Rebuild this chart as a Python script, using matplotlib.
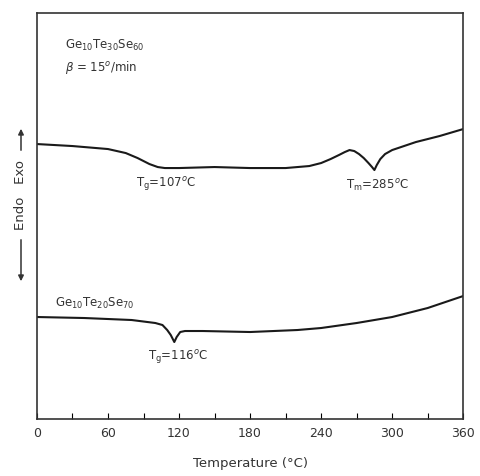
import numpy as np
import matplotlib.pyplot as plt

# DSC-кривые (произвольные единицы)
temp_top = [0, 30, 60, 75, 85, 95, 102, 108, 120, 150, 180, 210, 230, 240, 248, 255,
            260, 264, 268, 272, 276, 280, 283, 285, 287, 290, 294, 300, 320, 340, 360]
sig_top = [275, 273, 270, 266, 261, 255, 252, 251, 251, 252, 251, 251, 253, 256, 260, 264,
           267, 269, 268, 265, 261, 256, 252, 249, 254, 260, 265, 269, 277, 283, 290]

temp_bot = [0, 40, 80, 100, 106, 110, 113, 116, 118, 121, 125, 140, 180, 220, 240,
            270, 300, 330, 360]
sig_bot = [102, 101, 99, 96, 94, 89, 84, 77, 82, 87, 88, 88, 87, 89, 91,
           96, 102, 111, 123]

xticks = list(range(0, 361, 30))
xticklabels = [str(t) if t % 60 == 0 else '' for t in xticks]

W, H = 480, 477
fig = plt.figure(figsize=(W / 100, H / 100), dpi=100)
ax = fig.add_axes([0.077, 0.1195, 0.888, 0.851])

ax.plot(temp_top, sig_top, color='#1a1a1a', linewidth=1.5)
ax.plot(temp_bot, sig_bot, color='#1a1a1a', linewidth=1.5)

ax.set_xlim(0, 360)
ax.set_ylim(0, 406)
ax.set_xticks(xticks)
ax.set_xticklabels(xticklabels, fontsize=9, color='#333333')
ax.tick_params(axis='x', direction='in', length=4, pad=5)
ax.set_yticks([])
for s in ax.spines.values():
    s.set_linewidth(1.2)
    s.set_color('#333333')

txt = dict(fontsize=8.5, color='#333333')
ax.text(24, 371, r'Ge$_{10}$Te$_{30}$Se$_{60}$', **txt)
ax.text(24, 349, r'$\beta$ = 15$^o$/min', **txt)
ax.text(84, 233, r'T$_\mathrm{g}$=107$^o$C', **txt)
ax.text(261, 230, r'T$_\mathrm{m}$=285$^o$C', **txt)
ax.text(15, 113, r'Ge$_{10}$Te$_{20}$Se$_{70}$', **txt)
ax.text(94, 60, r'T$_\mathrm{g}$=116$^o$C', **txt)

ax.set_xlabel('Temperature (°C)', fontsize=9.5, color='#333333', labelpad=12)

# подпись оси Y со стрелками
fx = 21 / W
fig.text(fx, 1 - 195 / H, 'Endo   Exo', rotation=90, ha='center', va='center',
         fontsize=9.5, color='#333333')
arr = dict(arrowstyle='-|>', color='#333333', lw=1.1, mutation_scale=8)
fig.add_artist(plt.matplotlib.patches.FancyArrowPatch(
    (fx, 1 - 154 / H), (fx, 1 - 127 / H), transform=fig.transFigure, **arr))
fig.add_artist(plt.matplotlib.patches.FancyArrowPatch(
    (fx, 1 - 238 / H), (fx, 1 - 285 / H), transform=fig.transFigure, **arr))

plt.savefig('out.png', dpi=100)
